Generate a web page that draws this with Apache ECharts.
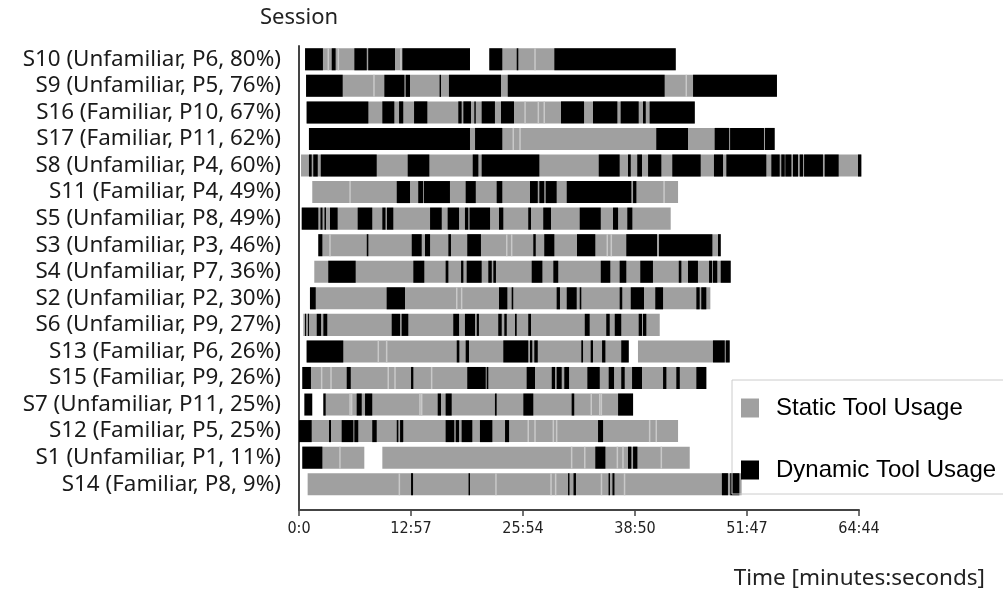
<!DOCTYPE html>
<html>
<head>
<meta charset="utf-8">
<script src="https://cdn.jsdelivr.net/npm/echarts@6/dist/echarts.min.js"></script>
<style>
html,body{margin:0;padding:0;background:#fff;}
#chart{width:1003px;height:591px;}
</style>
</head>
<body>
<div id="chart"></div>
<script>
// Session labels, top to bottom
var sessions = [
  'S10 (Unfamiliar, P6, 80%)', 'S9 (Unfamiliar, P5, 76%)', 'S16 (Familiar, P10, 67%)',
  'S17 (Familiar, P11, 62%)', 'S8 (Unfamiliar, P4, 60%)', 'S11 (Familiar, P4, 49%)',
  'S5 (Unfamiliar, P8, 49%)', 'S3 (Unfamiliar, P3, 46%)', 'S4 (Unfamiliar, P7, 36%)',
  'S2 (Unfamiliar, P2, 30%)', 'S6 (Unfamiliar, P9, 27%)', 'S13 (Familiar, P6, 26%)',
  'S15 (Familiar, P9, 26%)', 'S7 (Unfamiliar, P11, 25%)', 'S12 (Familiar, P5, 25%)',
  'S1 (Unfamiliar, P1, 11%)', 'S14 (Familiar, P8, 9%)'
];

// Static tool usage intervals [start, end] in seconds, per session (same order)
var staticUsage = [
  [[42,1186],[1320,2613]],
  [[49,3315]],
  [[53,2745]],
  [[69,3299]],
  [[14,3900]],
  [[92,2629]],
  [[19,2578]],
  [[134,2925]],
  [[106,2994]],
  [[76,2853]],
  [[30,2502]],
  [[53,2287],[2351,2987]],
  [[23,2825]],
  [[169,2317]],
  [[0,2629]],
  [[23,453],[578,2710]],
  [[60,3070]]
];

// Boundaries between consecutive static-usage events (seconds), per session
var staticBreaks = [
  [203,273,707,1637],
  [520,2686],
  [1568,1660,1701],
  [1486,1533],
  [],
  [354,2532],
  [],
  [215,1441,1475,2138,2166],
  [],
  [1094,1128],
  [],
  [550,608],
  [157,222,619,666,920],
  [354,365,839,851,2027,2086,2097],
  [1590,1637,1764,1787,2432,2478],
  [284,1891,1982,2208,2247,2513],
  [696,1366,1748,1780,2098,2258]
];

// Dynamic tool usage intervals [start, end] in seconds, per session (same order)
var dynamicUsage = [
  [[42,166],[227,254],[384,470],[480,666],[717,1186],[1320,1410],[1510,1521],[1771,2613]],
  [[49,303],[592,731],[740,770],[975,985],[1040,1401],[1448,2536],[2733,3315]],
  [[53,481],[578,661],[694,723],[798,890],[1105,1128],[1140,1193],[1216,1226],[1267,1359],[1401,1491],[1817,1977],[2039,2208],[2231,2356],[2386,2405],[2432,2745]],
  [[69,1186],[1221,1410],[2478,2698],[2883,2983],[2990,3225],[3232,3299]],
  [[69,88],[99,130],[151,539],[754,904],[1205,1244],[1267,1667],[2079,2224],[2282,2301],[2346,2379],[2421,2513],[2589,2786],[2878,2941],[2964,3241],[3276,3334],[3345,3369],[3373,3415],[3426,3461],[3473,3496],[3503,3634],[3646,3743],[3877,3900]],
  [[678,770],[827,860],[866,1047],[1156,1226],[1371,1410],[1602,1656],[1667,1701],[1711,1787],[1857,2305],[2317,2340]],
  [[19,134],[149,163],[177,187],[215,268],[407,508],[578,600],[610,654],[909,990],[1031,1110],[1151,1174],[1183,1325],[1387,1417],[1590,1609],[1694,1748],[1947,2093],[2178,2213],[2277,2312]],
  [[134,162],[470,481],[782,851],[874,909],[1036,1054],[1167,1262],[1625,1642],[1701,1771],[1928,2055],[2270,2483],[2497,2867],[2906,2925]],
  [[203,393],[793,869],[1017,1036],[1124,1140],[1163,1267],[1313,1337],[1348,1366],[1614,1688],[1764,1798],[2093,2159],[2224,2270],[2367,2455],[2634,2652],[2698,2767],[2844,2865],[2871,2901],[2925,2994]],
  [[76,116],[608,735],[1387,1445],[1475,1486],[1787,1810],[1857,1926],[1947,1958],[2224,2242],[2301,2393],[2471,2525],[2756,2779],[2790,2825]],
  [[42,49],[62,69],[123,153],[169,196],[643,701],[712,758],[1070,1110],[1151,1221],[1233,1248],[1382,1406],[1424,1441],[1498,1510],[1590,1609],[1982,2016],[2131,2155],[2190,2235],[2356,2379],[2386,2409]],
  [[53,307],[1094,1112],[1156,1179],[1417,1590],[1602,1618],[1632,1656],[1958,1970],[2023,2039],[2102,2125],[2235,2287],[2871,2953],[2960,2987]],
  [[23,83],[331,359],[777,793],[1167,1295],[1302,1313],[1579,1637],[1753,1776],[1787,1822],[1840,1873],[2000,2086],[2148,2185],[2235,2259],[2310,2379],[2525,2548],[2617,2641],[2756,2825]],
  [[37,92],[169,185],[400,435],[458,508],[962,985],[1017,1059],[1359,1371],[1556,1625],[1891,1909],[2213,2317]],
  [[0,88],[208,222],[296,377],[384,411],[508,539],[678,689],[701,723],[1017,1077],[1087,1110],[1128,1202],[1255,1341],[1429,1457],[2074,2109]],
  [[23,162],[2055,2125],[2282,2305],[2317,2347]],
  [[777,791],[1176,1186],[1866,1876],[1904,1921],[2147,2157],[2174,2188],[2933,2975],[2991,3054]]
];

// Axis range: 0:0 .. 64:44 in five equal steps
var axisMax = 3884;
var axisStep = 776.8;

function toRows(list) {
  var out = [];
  list.forEach(function (segs, row) {
    segs.forEach(function (s) { out.push([row, s[0], s[1]]); });
  });
  return out;
}
function toPoints(list) {
  var out = [];
  list.forEach(function (pts, row) {
    pts.forEach(function (t) { out.push([row, t]); });
  });
  return out;
}

function makeRender(color) {
  return function (params, api) {
    var row = api.value(0);
    var p0 = api.coord([api.value(1), row]);
    var p1 = api.coord([api.value(2), row]);
    var h = api.size([0, 1])[1] * 0.83;
    return {
      type: 'rect',
      shape: { x: p0[0], y: p0[1] - h / 2, width: Math.max(p1[0] - p0[0], 1), height: h },
      style: { fill: color }
    };
  };
}
function renderBreak(params, api) {
  var row = api.value(0);
  var p = api.coord([api.value(1), row]);
  var h = api.size([0, 1])[1] * 0.83;
  return {
    type: 'rect',
    shape: { x: p[0] - 0.75, y: p[1] - h / 2, width: 1.5, height: h },
    style: { fill: '#c9c9c9' }
  };
}

function fmt(v) {
  var s = Math.round(v);
  return Math.floor(s / 60) + ':' + (s % 60);
}

var GRAY = '#a0a0a0', BLACK = '#000000';
var chart = echarts.init(document.getElementById('chart'), null, { renderer: 'canvas' });
chart.setOption({
  animation: false,
  backgroundColor: '#ffffff',
  title: {
    text: 'Time [minutes:seconds]',
    right: 18, top: 567, padding: 0,
    textStyle: { fontSize: 22.5, fontWeight: 'normal', color: '#222', fontFamily: 'Noto Sans' }
  },
  legend: {
    orient: 'vertical',
    left: 732, top: 380,
    padding: [16, 14, 12, 9],
    itemGap: 38,
    itemWidth: 18, itemHeight: 19,
    borderColor: '#cccccc', borderWidth: 1,
    backgroundColor: 'rgba(255,255,255,0)',
    textStyle: { fontSize: 24, color: '#000', fontFamily: 'Liberation Sans', padding: [0, 0, 0, 12] },
    data: [
      { name: 'Static Tool Usage', icon: 'rect' },
      { name: 'Dynamic Tool Usage', icon: 'rect' }
    ]
  },
  grid: [
    { left: 299, right: 144, top: 46, bottom: 93.5 },
    { left: 299, right: 144, top: 46, bottom: 81 }
  ],
  xAxis: [
    { gridIndex: 0, type: 'value', min: 0, max: axisMax, interval: axisStep, show: false },
    {
      gridIndex: 1, type: 'value', min: 0, max: axisMax, interval: axisStep,
      axisLine: { show: true, lineStyle: { color: '#444', width: 2 } },
      axisTick: { show: true, length: 6, lineStyle: { color: '#444', width: 1.5 } },
      splitLine: { show: false },
      axisLabel: {
        formatter: fmt, margin: 11, fontSize: 16, color: '#222',
        fontFamily: "'Liberation Sans Narrow', 'DejaVu Sans Condensed', sans-serif"
      }
    }
  ],
  yAxis: [
    {
      gridIndex: 0, type: 'category', inverse: true, data: sessions,
      axisLine: { show: false }, axisTick: { show: false }, splitLine: { show: false },
      axisLabel: { interval: 0, fontSize: 22.4, color: '#1a1a1a', margin: 18, fontFamily: 'Noto Sans' }
    },
    {
      gridIndex: 1, type: 'value', min: 0, max: 1,
      name: 'Session', nameLocation: 'end', nameGap: 17,
      nameTextStyle: { fontSize: 22, color: '#222', fontFamily: 'Noto Sans', align: 'center', verticalAlign: 'bottom' },
      axisLine: { show: true, lineStyle: { color: '#444', width: 2 } },
      axisTick: { show: false }, axisLabel: { show: false }, splitLine: { show: false }
    }
  ],
  series: [
    {
      name: 'Static Tool Usage', type: 'custom', xAxisIndex: 0, yAxisIndex: 0,
      itemStyle: { color: GRAY }, clip: false,
      renderItem: makeRender(GRAY), encode: { x: [1, 2], y: 0 },
      data: toRows(staticUsage)
    },
    {
      name: 'static breaks', type: 'custom', xAxisIndex: 0, yAxisIndex: 0,
      clip: false, renderItem: renderBreak, encode: { x: 1, y: 0 },
      data: toPoints(staticBreaks)
    },
    {
      name: 'Dynamic Tool Usage', type: 'custom', xAxisIndex: 0, yAxisIndex: 0,
      itemStyle: { color: BLACK }, clip: false,
      renderItem: makeRender(BLACK), encode: { x: [1, 2], y: 0 },
      data: toRows(dynamicUsage)
    }
  ]
});
</script>
</body>
</html>
